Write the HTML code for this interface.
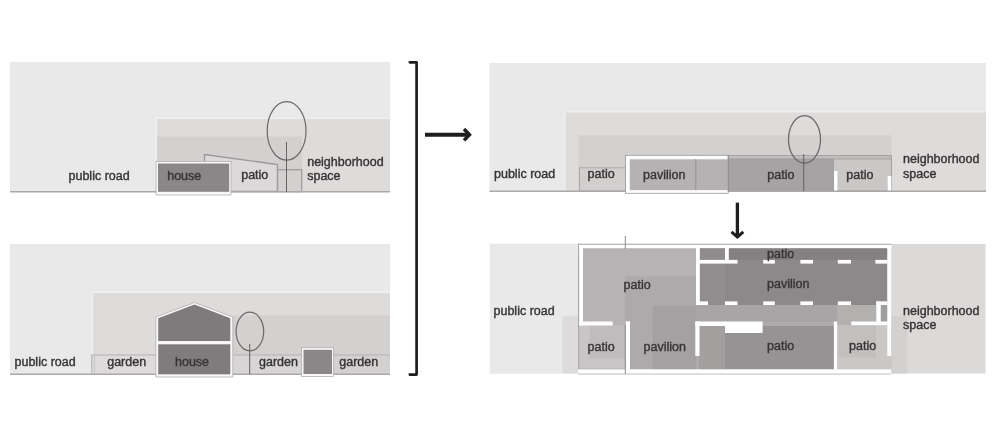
<!DOCTYPE html>
<html><head><meta charset="utf-8">
<style>
html,body{margin:0;padding:0;background:#fff;width:1000px;height:430px;overflow:hidden}
svg{position:absolute;left:0;top:0;display:block;will-change:transform}
text{font-family:"Liberation Sans",sans-serif;font-size:12.5px;letter-spacing:0px;fill:#333131;stroke:#3a3838;stroke-width:0.4px}
</style></head><body>
<svg width="1000" height="430" viewBox="0 0 1000 430">
<rect x="0" y="0" width="1000" height="430" fill="#ffffff"/>

<!-- ============ TOP LEFT ============ -->
<g id="tl">
<rect x="10" y="62" width="380" height="130" fill="#eae9e9"/>
<rect x="155.5" y="117.5" width="234.5" height="74.5" fill="#f0efef"/>
<rect x="157" y="119" width="233" height="73" fill="#dedbdb"/>
<rect x="157" y="136.5" width="145" height="55.5" fill="#d3d0d0"/>
<polygon points="204.5,154.5 277.5,164.5 277.5,191.5 204.5,191.5" fill="#dbd9d9" stroke="#9a9898" stroke-width="1.3"/>
<rect x="277.5" y="169.7" width="24.2" height="22" fill="none" stroke="#a09e9e" stroke-width="1.3"/>
<rect x="10" y="191" width="380" height="1.5" fill="#aaa8a8"/>
<rect x="156" y="161.5" width="75" height="33.5" fill="#f8f8f8" stroke="#a8a6a6" stroke-width="0.7"/>
<rect x="158" y="163.5" width="71.2" height="28.3" fill="#8b8788"/>
<ellipse cx="286.6" cy="130.9" rx="19.4" ry="29.3" fill="none" stroke="#6a6868" stroke-width="1.2"/>
<line x1="286.5" y1="142" x2="286.5" y2="192" stroke="#5e5c5c" stroke-width="0.95"/>
<text x="68.5" y="179.7">public road</text>
<text x="167.2" y="180">house</text>
<text x="241.2" y="179.2">patio</text>
<text x="307.2" y="165.7">neighborhood</text>
<text x="307.2" y="179.6">space</text>
</g>

<!-- bracket + arrows -->
<path d="M409.8,62.3 H416.6 V374.6 H409.8" fill="none" stroke="#1e1e1e" stroke-width="2.7" stroke-linecap="round" stroke-linejoin="round"/>
<line x1="425" y1="134.7" x2="469" y2="134.7" stroke="#1e1e1e" stroke-width="4"/>
<path d="M464,129 L469.5,134.7 L464,140.4" fill="none" stroke="#1e1e1e" stroke-width="3.4" stroke-linejoin="miter"/>
<line x1="737.4" y1="202.6" x2="737.4" y2="235.5" stroke="#1e1e1e" stroke-width="3.3"/>
<path d="M731.5,231.8 L737.4,237 L743.3,231.8" fill="none" stroke="#1e1e1e" stroke-width="3"/>

<!-- ============ BOTTOM LEFT ============ -->
<g id="bl">
<rect x="10" y="244" width="380" height="130.5" fill="#eae9e9"/>
<rect x="91.5" y="291.5" width="298.5" height="82.5" fill="#f0efef"/>
<rect x="93" y="293" width="297" height="81" fill="#dedbdb"/>
<rect x="233" y="315.5" width="157" height="58.5" fill="#d3d0d0"/>
<rect x="92" y="355" width="64" height="19" fill="#dddbdb"/>
<rect x="232" y="355" width="70" height="19" fill="#d7d5d5"/>
<rect x="333" y="355" width="57" height="19" fill="#d3d0d0"/>
<rect x="91.5" y="354.5" width="298.5" height="1" fill="#b2b0b0"/>
<rect x="91.2" y="354.5" width="1" height="19.5" fill="#b2b0b0"/>
<rect x="93.9" y="355" width="0.8" height="19" fill="#c2c0c0"/>
<rect x="10" y="373.5" width="380" height="1.5" fill="#aaa8a8"/>
<polygon points="155.8,317 194.5,302.5 232.8,317 232.8,377 155.8,377" fill="#f8f8f8" stroke="#a8a6a6" stroke-width="0.7"/>
<polygon points="158.2,318.2 194.5,304.6 230.3,318.2 230.3,341 158.2,341" fill="#7f7b7c"/>
<rect x="158.2" y="344.3" width="72.1" height="30" fill="#807c7d"/>
<ellipse cx="249.9" cy="331.5" rx="13.8" ry="19.4" fill="none" stroke="#6a6868" stroke-width="1.2"/>
<line x1="249.7" y1="344" x2="249.7" y2="374" stroke="#5e5c5c" stroke-width="0.95"/>
<rect x="301.6" y="347.7" width="32" height="28.8" fill="#f8f8f8" stroke="#a8a6a6" stroke-width="0.7"/>
<rect x="303.5" y="349.8" width="28.5" height="24.2" fill="#8b8788"/>
<text x="14.5" y="366.2">public road</text>
<text x="107.2" y="366">garden</text>
<text x="175" y="366">house</text>
<text x="259" y="366">garden</text>
<text x="339.3" y="365.8">garden</text>
</g>

<!-- ============ TOP RIGHT ============ -->
<g id="tr">
<rect x="489.5" y="63" width="496.5" height="128" fill="#eae9e9"/>
<rect x="564" y="111" width="422" height="80" fill="#f0efef"/>
<rect x="565.5" y="112.5" width="420.5" height="78.5" fill="#dedbdb"/>
<rect x="578.5" y="135.3" width="313" height="55.7" fill="#d3d0d0"/>
<rect x="579.5" y="167.8" width="46" height="23.2" fill="#d2cfcf" stroke="#a9a7a7" stroke-width="1"/>
<rect x="728.5" y="155.5" width="163" height="35.5" fill="#c0bdbd" stroke="#a2a0a0" stroke-width="0.9"/>
<rect x="728.5" y="159" width="105" height="32" fill="#a7a3a4" stroke="#9e9c9c" stroke-width="0.9"/>
<rect x="833.5" y="159" width="58" height="32" fill="#cac7c7" stroke="#a2a0a0" stroke-width="0.9"/>
<rect x="834" y="171" width="3.4" height="20" fill="#ffffff"/>
<rect x="887.7" y="176" width="3.6" height="15" fill="#ffffff"/>
<rect x="489.5" y="190.5" width="496.5" height="1.5" fill="#aaa8a8"/>
<rect x="625.5" y="155.3" width="102.7" height="38" fill="#fcfcfc" stroke="#9a9898" stroke-width="0.8"/>
<rect x="629.8" y="159.3" width="98.5" height="30.8" fill="#b6b2b3"/>
<rect x="695" y="159.3" width="1.5" height="30.8" fill="#9e9b9b"/>
<rect x="727.8" y="155.3" width="1.2" height="36" fill="#939091"/>
<ellipse cx="804.5" cy="139.4" rx="16" ry="23.7" fill="none" stroke="#6a6868" stroke-width="1.25"/>
<line x1="803.7" y1="154" x2="803.7" y2="191" stroke="#5e5c5c" stroke-width="0.95"/>
<text x="494" y="177.7">public road</text>
<text x="587.5" y="177.7">patio</text>
<text x="643" y="178.5">pavilion</text>
<text x="767.3" y="178.7">patio</text>
<text x="846.3" y="178.7">patio</text>
<text x="903" y="163">neighborhood</text>
<text x="903" y="177.7">space</text>
</g>

<!-- ============ BOTTOM RIGHT ============ -->
<g id="br">
<rect x="489.8" y="243.7" width="88.8" height="130" fill="#eae9e9"/>
<rect x="891.2" y="244" width="94.3" height="129.5" fill="#dcd9d9"/>
<rect x="562.3" y="315.7" width="16.3" height="57.8" fill="#dddbdb"/>
<rect x="891.2" y="316" width="15.8" height="57.5" fill="#d3d0d0"/>
<!-- frame lines -->
<rect x="578" y="243.7" width="313.2" height="1.1" fill="#aaa8a8"/>
<rect x="578" y="243.7" width="1.1" height="130" fill="#aaa8a8"/>
<rect x="579.2" y="245" width="312" height="3.5" fill="#ffffff"/>
<rect x="579.2" y="248.5" width="312" height="121" fill="#aeaaab"/>
<!-- A big patio -->
<rect x="583" y="248.5" width="113" height="77" fill="#b7b2b3"/>
<!-- B, C overlays -->
<rect x="625" y="276.5" width="71" height="92.9" fill="#aeaaab"/>
<rect x="652.8" y="305.6" width="43.2" height="63.8" fill="#a5a1a2"/>
<!-- H left patio -->
<rect x="579.2" y="325.5" width="46.6" height="43.9" fill="#c9c5c6"/>
<rect x="590" y="325.5" width="35" height="33.1" fill="#c0bcbd"/>
<rect x="579.2" y="368.8" width="46" height="0.8" fill="#a8a6a6"/>
<!-- D upper pavilion -->
<rect x="699.8" y="248.5" width="187.5" height="56.5" fill="#8d8889"/>
<rect x="699.8" y="263.6" width="25.2" height="41.4" fill="#928d8e"/>
<rect x="699.8" y="248.5" width="25.2" height="11.4" fill="#908b8c"/>
<rect x="728.8" y="248.5" width="158.5" height="11.4" fill="#858081"/>
<!-- E strip -->
<rect x="696" y="305" width="191.3" height="17" fill="#a9a5a6"/>
<!-- F bottom patio -->
<rect x="699.5" y="326" width="134.4" height="43.4" fill="#979293"/>
<rect x="699.5" y="326" width="25.5" height="43.4" fill="#a39f9f"/>
<!-- G right patio -->
<rect x="837.2" y="305" width="50.1" height="20.2" fill="#b3b0b0"/>
<rect x="837.2" y="325.2" width="54" height="44.2" fill="#cac7c7"/>
<rect x="837.2" y="325.2" width="38.8" height="32" fill="#c2bfbf"/>
<rect x="880.7" y="305" width="6.6" height="16.5" fill="#a09d9d"/>
<!-- walls -->
<g fill="#ffffff">
<rect x="579.2" y="245" width="3.8" height="80.5"/>
<rect x="579.2" y="321.5" width="33.5" height="4"/>
<rect x="625.8" y="321.3" width="4.2" height="51.7"/>
<rect x="578" y="369.4" width="313.2" height="4.2"/>
<rect x="696" y="245" width="3.8" height="60"/>
<rect x="725" y="245" width="3.8" height="15"/>
<rect x="696" y="259.9" width="41.5" height="3.7"/>
<rect x="763.2" y="259.9" width="11.6" height="3.7"/>
<rect x="800.4" y="259.9" width="12.6" height="3.7"/>
<rect x="837.8" y="259.9" width="13.2" height="3.7"/>
<rect x="875.4" y="259.9" width="12" height="3.7"/>
<rect x="696" y="301.4" width="12" height="3.6"/>
<rect x="725" y="301.4" width="12.4" height="3.6"/>
<rect x="763.2" y="301.4" width="11.6" height="3.6"/>
<rect x="800.4" y="301.4" width="12.6" height="3.6"/>
<rect x="837.8" y="301.4" width="13.2" height="3.6"/>
<rect x="876.3" y="301.4" width="11" height="3.6"/>
<rect x="876.3" y="301.4" width="4.4" height="22.3"/>
<rect x="887.3" y="245" width="3.9" height="111"/>
<rect x="695.3" y="321.5" width="30" height="4.5"/>
<rect x="725" y="321.5" width="37.6" height="11.5"/>
<rect x="695.3" y="321.5" width="4.2" height="34.5"/>
<rect x="833.9" y="321.5" width="3.3" height="47.9"/>
<rect x="851.3" y="321.5" width="39.9" height="3.7"/>
</g>
<rect x="578" y="373.6" width="313.2" height="0.9" fill="#b9b7b7"/>
<rect x="624.8" y="236" width="1" height="13" fill="#8a8888"/>
<rect x="624.8" y="325" width="1" height="49" fill="#8e8c8c"/>
<text x="493.5" y="315">public road</text>
<text x="623.5" y="289">patio</text>
<text x="767" y="257.7">patio</text>
<text x="767" y="288.3">pavilion</text>
<text x="587.5" y="350.5">patio</text>
<text x="643.5" y="350.7">pavilion</text>
<text x="767" y="350">patio</text>
<text x="849" y="350.2">patio</text>
<text x="903" y="315.3">neighborhood</text>
<text x="903" y="329">space</text>
</g>
</svg>
</body></html>
